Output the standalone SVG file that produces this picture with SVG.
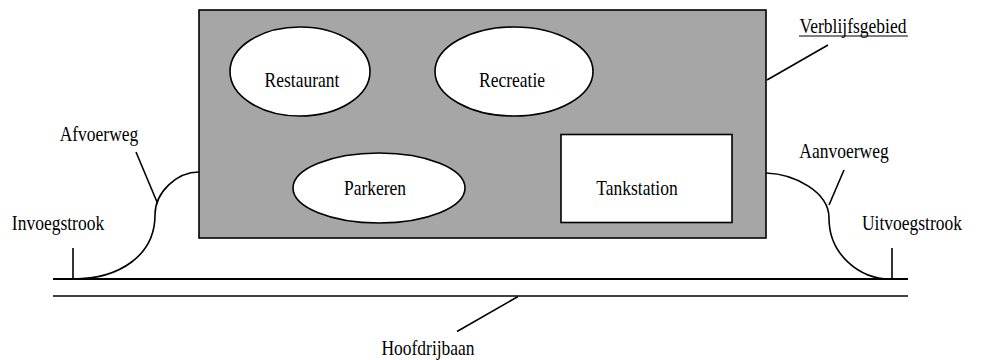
<svg xmlns="http://www.w3.org/2000/svg" width="981" height="360" viewBox="0 0 981 360">
<style>
.t{font-family:'Liberation Serif','Times New Roman',Times,serif;font-size:17.5px;fill:#000;text-anchor:middle}
.s{fill:none;stroke:#000;stroke-width:1.6}
.w{fill:#fff;stroke:#000;stroke-width:1.6}
</style>
<rect x="0" y="0" width="981" height="360" fill="#fff"/>
<g id="verblijfsgebied">
<rect x="199" y="10" width="567" height="228" fill="#a6a6a6" stroke="#000" stroke-width="1.6"/>
</g>
<g font-family="Liberation Serif, Times New Roman, serif">
<g id="restaurant">
<ellipse class="w" cx="300" cy="71.5" rx="70" ry="44.5"/>
<text class="t" transform="translate(302 87) scale(1 1.2)">Restaurant</text>
</g>
<g id="recreatie">
<ellipse class="w" cx="514" cy="71.5" rx="79" ry="44.5"/>
<text class="t" transform="translate(512 87) scale(1 1.2)">Recreatie</text>
</g>
<g id="parkeren">
<ellipse class="w" cx="379" cy="188" rx="86" ry="35"/>
<text class="t" transform="translate(375 195) scale(1 1.2)">Parkeren</text>
</g>
<g id="tankstation">
<rect class="w" x="561" y="134.5" width="171" height="88"/>
<text class="t" transform="translate(637 195) scale(1 1.2)">Tankstation</text>
</g>
<g id="hoofdrijbaan">
<line x1="53" y1="279" x2="908" y2="279" stroke="#000" stroke-width="2"/>
<line x1="53" y1="296" x2="908" y2="296" stroke="#000" stroke-width="1.5"/>
<text class="t" transform="translate(428 355) scale(1 1.2)">Hoofdrijbaan</text>
</g>
<g id="afvoerweg">
<path class="s" d="M199,172 C177,172 155,192 155,215 C155,255 120,279 73,279"/>
<text class="t" transform="translate(99 141) scale(1 1.2)">Afvoerweg</text>
</g>
<g id="aanvoerweg">
<path class="s" d="M766,173 C795,174 829,192 829,218 C829,255 860,279 890,279"/>
<text class="t" transform="translate(844 158) scale(1 1.2)">Aanvoerweg</text>
</g>
<g id="invoegstrook">
<text class="t" transform="translate(58 230) scale(1 1.2)">Invoegstrook</text>
</g>
<g id="uitvoegstrook">
<text class="t" transform="translate(912 230) scale(1 1.2)">Uitvoegstrook</text>
</g>
<g id="label-verblijfsgebied">
<text class="t" transform="translate(853 33) scale(1 1.2)">Verblijfsgebied</text>
<line x1="799" y1="36" x2="908" y2="36" stroke="#000" stroke-width="1"/>
</g>
</g>
<g id="connectors">
<line class="s" x1="828" y1="45" x2="767" y2="80"/>
<line class="s" x1="136" y1="152" x2="157" y2="202"/>
<line class="s" x1="844" y1="170" x2="829" y2="205"/>
<line class="s" x1="73" y1="248" x2="73" y2="279"/>
<line class="s" x1="892" y1="248" x2="892" y2="279"/>
<line class="s" x1="518" y1="296.5" x2="457" y2="331.5"/>
</g>
</svg>
